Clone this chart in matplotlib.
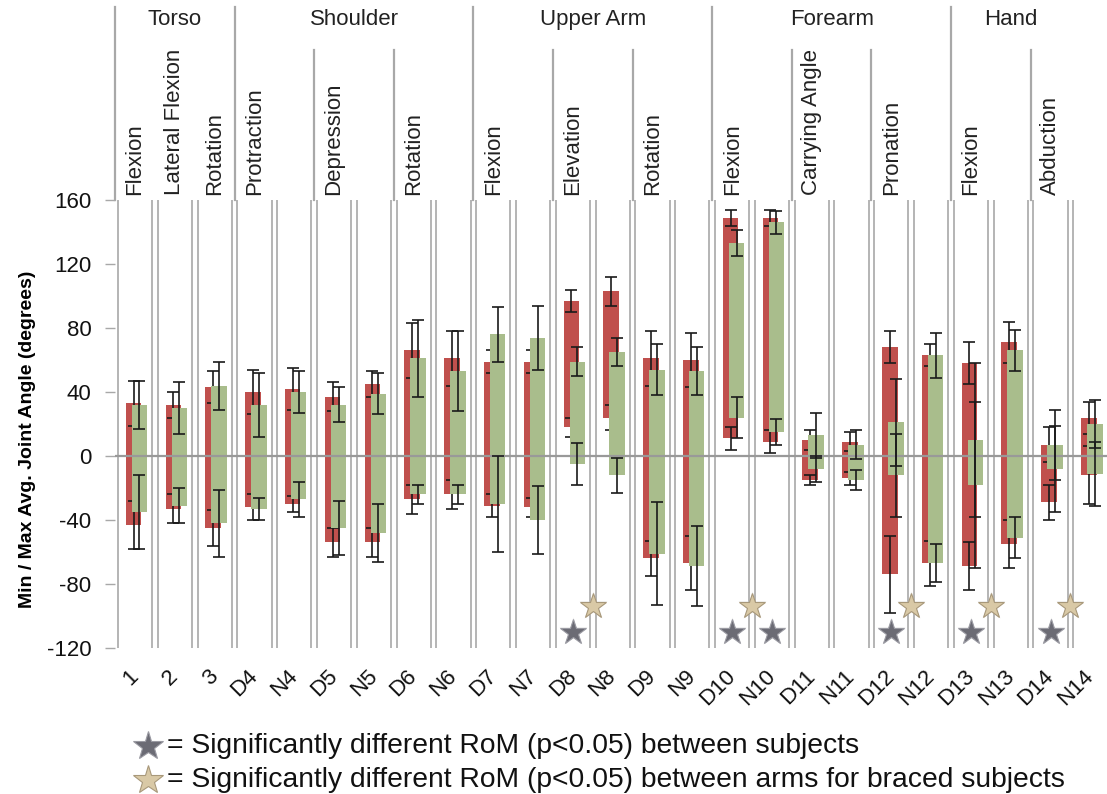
import matplotlib
matplotlib.use('Agg')
import matplotlib.pyplot as plt
import numpy as np

plt.rcParams['font.family'] = ['Liberation Sans', 'DejaVu Sans']
plt.rcParams['axes.unicode_minus'] = False

# joint / movement categories (D = dominant arm, N = non-dominant arm)
cats = ['1', '2', '3', 'D4', 'N4', 'D5', 'N5', 'D6', 'N6', 'D7', 'N7', 'D8', 'N8',
        'D9', 'N9', 'D10', 'N10', 'D11', 'N11', 'D12', 'N12', 'D13', 'N13', 'D14', 'N14']

# red series: average max / min angle and their std
red_max = [33, 32, 43, 40, 42, 37, 45, 66, 61, 59, 59, 97, 103, 61, 60, 149, 149, 10, 9, 68, 63, 58, 71, 7, 24]
red_max_err = [14, 8, 10, 14, 13, 9, 8, 17, 17, 7, 7, 7, 9, 17, 17, 5, 5, 6, 6, 10, 7, 13, 13, 11, 10]
red_min = [-43, -33, -45, -32, -30, -54, -54, -27, -24, -31, -32, 18, 24, -64, -67, 11, 9, -15, -14, -74, -67, -69, -55, -29, -12]
red_min_err = [15, 9, 11, 8, 5, 9, 9, 9, 9, 7, 6, 6, 8, 11, 17, 7, 7, 3, 4, 24, 14, 15, 15, 11, 18]

# green series
grn_max = [32, 30, 44, 32, 40, 32, 39, 61, 53, 76, 74, 59, 65, 54, 53, 133, 146, 13, 7, 21, 63, 10, 66, 7, 20]
grn_max_err = [15, 16, 15, 20, 13, 11, 13, 24, 25, 17, 20, 9, 9, 16, 15, 8, 7, 14, 9, 27, 14, 48, 13, 22, 15]
grn_min = [-35, -31, -42, -33, -27, -45, -48, -24, -24, -30, -40, -5, -12, -61, -69, 24, 15, -8, -15, -12, -67, -18, -51, -8, -11]
grn_min_err = [23, 11, 21, 7, 11, 17, 18, 6, 6, 30, 21, 13, 11, 32, 25, 13, 8, 8, 6, 26, 12, 52, 13, 27, 20]

# significance markers
between_subjects = [11, 15, 16, 19, 21, 23]
between_arms = [11.5, 15.5, 19.5, 21.5, 23.5]

# header labels
groups = ['Torso', 'Shoulder', 'Upper Arm', 'Forearm', 'Hand']
group_x = [1, 5.5, 11.5, 17.5, 22]
group_edges = [-0.5, 2.5, 8.5, 14.5, 20.5]
sub_labels = ['Flexion', 'Lateral Flexion', 'Rotation', 'Protraction', 'Depression', 'Rotation',
              'Flexion', 'Elevation', 'Rotation', 'Flexion', 'Carrying Angle', 'Pronation',
              'Flexion', 'Abduction']
sub_x = [0, 1, 2, 3, 5, 7, 9, 11, 13, 15, 17, 19, 21, 23]
sub_edges = [4.5, 6.5, 10.5, 12.5, 16.5, 18.5, 22.5]

RED = '#C0504D'
GREEN = '#A9BD8C'
LINE = '#a8a8a8'
DARK_STAR = ('#6b6b74', '#9a9aa2')
TAN_STAR = ('#d9c9a6', '#a8987a')

fig = plt.figure(figsize=(11.07, 7.94), dpi=100)
ax = fig.add_axes([115.2 / 1107, 146 / 794, 995.1 / 1107, 448 / 794])

x = np.arange(len(cats))
w = 0.39
xr = x - 0.04
xg = x + 0.11

red_lo = np.array(red_min)
red_hi = np.array(red_max)
grn_lo = np.array(grn_min)
grn_hi = np.array(grn_max)

ax.bar(xr, red_hi - red_lo, bottom=red_lo, width=w, color=RED, zorder=2)
ax.errorbar(np.r_[xr, xr], np.r_[red_hi, red_lo], yerr=np.r_[red_max_err, red_min_err],
            fmt='none', ecolor='#1a1a1a', elinewidth=1.2, capsize=4, capthick=1.2, zorder=3)
ax.bar(xg, grn_hi - grn_lo, bottom=grn_lo, width=w, color=GREEN, zorder=4)
ax.axhline(0, color='#999999', lw=1.6, zorder=4.5)
ax.errorbar(np.r_[xg, xg], np.r_[grn_hi, grn_lo], yerr=np.r_[grn_max_err, grn_min_err],
            fmt='none', ecolor='#1a1a1a', elinewidth=1.2, capsize=4, capthick=1.2, zorder=5)

# double panel borders between categories
for b in np.arange(-0.5, len(cats) + 0.5, 1.0):
    for d in (-0.07, 0.07):
        ax.axvline(b + d, color=LINE, lw=1.2, zorder=1)


def stars(xs, ys, colors, **kw):
    fc, ec = colors
    # soft drop shadow, then the star itself
    ax.plot(xs, ys, ls='none', marker='*', ms=21, mfc='#d0d0d0', mec='none', alpha=0.5,
            zorder=5.5, **kw)
    ax.plot(xs, ys, ls='none', marker='*', ms=19, mfc=fc, mec=ec, mew=0.8, zorder=6, **kw)


stars(between_subjects, [-110] * len(between_subjects), DARK_STAR)
stars(between_arms, [-94] * len(between_arms), TAN_STAR)

ax.set_xlim(-0.5, len(cats) - 0.5)
ax.set_ylim(-120, 160)
ax.set_yticks(np.arange(-120, 161, 40))
ax.tick_params(axis='y', length=7, width=1, color=LINE, pad=10, labelsize=16, labelcolor='#111111')
ax.set_xticks(x)
ax.set_xticklabels(cats, rotation=45, ha='right', va='center', rotation_mode='anchor')
ax.tick_params(axis='x', length=0, pad=18, labelsize=16, labelcolor='#111111')
for s in ax.spines.values():
    s.set_visible(False)

# header above the plot
for e in group_edges:
    ax.plot([e, e], [160, 280.6], color=LINE, lw=1.6, clip_on=False)
for e in sub_edges:
    ax.plot([e, e], [160, 253.8], color=LINE, lw=1.6, clip_on=False)
for name, gx in zip(groups, group_x):
    ax.text(gx, 273, name, ha='center', va='center', fontsize=16, color='#222222', clip_on=False)
for name, sx in zip(sub_labels, sub_x):
    ax.text(sx, 163, name, rotation=90, ha='center', va='bottom', fontsize=16,
            color='#222222', clip_on=False)

fig.text(28 / 1107, 1 - 439 / 794, 'Min / Max Avg. Joint Angle (degrees)', rotation=90,
         ha='center', va='center', fontsize=14, fontweight='bold')

# legend rows
leg = [(DARK_STAR, 'between subjects', 746),
       (TAN_STAR, 'between arms for braced subjects', 780)]
for (fc, ec), txt, py in leg:
    yy = 1 - py / 794
    ax.plot([148 / 1107], [yy], transform=fig.transFigure, marker='*', ms=22, ls='none',
            mfc=fc, mec=ec, mew=0.8, clip_on=False)
    fig.text(167 / 1107, yy, '= Significantly different RoM (p<0.05) ' + txt,
             va='center', ha='left', fontsize=20.3, color='#111111')

fig.savefig('out.png', dpi=100)
